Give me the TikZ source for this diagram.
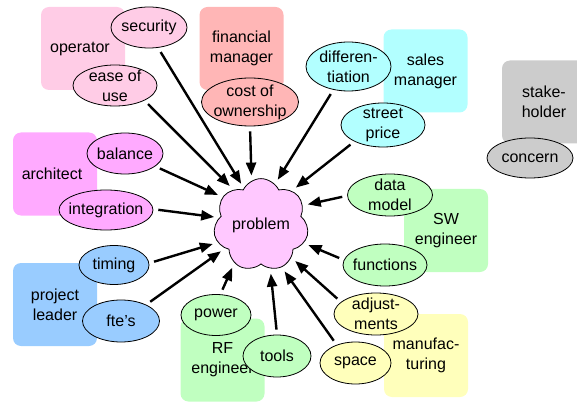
\documentclass[tikz,border=0pt]{standalone}
\usepackage{fontspec}
\setmainfont{Liberation Sans}
\usetikzlibrary{shapes.geometric,shapes.symbols,arrows.meta}

\definecolor{opPink}{RGB}{255,204,230}
\definecolor{finRed}{RGB}{255,182,182}
\definecolor{archMag}{RGB}{255,170,255}
\definecolor{plBlue}{RGB}{153,204,255}
\definecolor{engGreen}{RGB}{192,255,192}
\definecolor{manYellow}{RGB}{255,255,187}
\definecolor{salesCyan}{RGB}{178,255,255}
\definecolor{shGray}{RGB}{204,204,204}
\definecolor{probPink}{RGB}{255,200,255}

\begin{document}
\begin{tikzpicture}[x=1pt, y=-1pt,
  every node/.style={font=\fontsize{16}{20}\selectfont, align=center},
  holder/.style={fill=#1, rounded corners=8pt, minimum width=84pt, minimum height=83pt, inner sep=0pt},
  bubble/.style={ellipse, draw, line width=0.8pt, fill=#1, inner sep=-6pt},
  need/.style={-{Triangle[length=13pt,width=10pt]}, line width=2.4pt, shorten <=5pt, shorten >=5pt}]
  \useasboundingbox (0,0) rectangle (577,403);

  % Stakeholders
  \node[holder=opPink] (operator) at (83,48.5) {operator\hspace{6pt}};
  \node[holder=finRed] (finance) at (241.5,48.5) {financial\\manager};
  \node[holder=archMag] (architect) at (55,174) {architect\hspace{6pt}};
  \node[holder=plBlue] (leader) at (55,304.5) {project\\leader};
  \node[holder=engGreen] (rfeng) at (222.5,360) {RF\\engineer};
  \node[holder=engGreen] (sweng) at (446,230.5) {SW\\engineer};
  \node[holder=manYellow] (manuf) at (426,355.5) {manufac-\\turing};
  \node[holder=salesCyan] (sales) at (425.5,71) {sales\\manager};
  \node[holder=shGray] (stake) at (544,102) {stake-\\holder};

  % Concerns
  \node[bubble=opPink, minimum width=76pt, minimum height=41pt] (security) at (149,27.5) {security};
  \node[bubble=opPink, minimum width=84pt, minimum height=41pt] (ease) at (115,85.5) {ease of\\use};
  \node[bubble=finRed, minimum width=97pt, minimum height=48pt] (cost) at (250,102) {cost of\\ownership};
  \node[bubble=salesCyan, minimum width=85pt, minimum height=49pt] (diff) at (348.5,66.5) {differen-\\tiation};
  \node[bubble=salesCyan, minimum width=84pt, minimum height=44pt] (price) at (383,125) {street\\price};
  \node[bubble=engGreen, minimum width=85pt, minimum height=42pt] (data) at (390,195) {data\\model};
  \node[bubble=engGreen, minimum width=84pt, minimum height=42pt] (functions) at (385,265) {functions};
  \node[bubble=manYellow, minimum width=84pt, minimum height=42pt] (adjust) at (376,314) {adjust-\\ments};
  \node[bubble=manYellow, minimum width=71pt, minimum height=42pt] (space) at (355.5,363) {space};
  \node[bubble=engGreen, minimum width=68pt, minimum height=42pt] (tools) at (277,356) {tools};
  \node[bubble=engGreen, minimum width=70pt, minimum height=41pt] (power) at (216,315) {power};
  \node[bubble=plBlue, minimum width=77pt, minimum height=42pt] (ftes) at (121,321) {fte's};
  \node[bubble=plBlue, minimum width=70pt, minimum height=39pt] (timing) at (114,265) {timing};
  \node[bubble=archMag, minimum width=94pt, minimum height=40pt] (integration) at (106,210) {integration};
  \node[bubble=archMag, minimum width=76pt, minimum height=41pt] (balance) at (125,153.5) {balance};
  \node[bubble=shGray, minimum width=86pt, minimum height=40pt] (concern) at (530,158) {concern};

  % The problem
  \node[cloud, cloud puffs=7, cloud puff arc=130, aspect=1.05, draw, line width=0.8pt, fill=probPink,
        minimum width=93pt, minimum height=89pt, inner sep=0pt] (problem) at (261,225) {problem};

  % Arrows to the problem
  \draw[need] (security.-66) -- (problem.115);
  \draw[need] (ease.-27) -- (problem.128);
  \draw[need] (cost.-90) -- (problem.102);
  \draw[need] (diff.-123) -- (problem.71);
  \draw[need] (price.-150) -- (problem.48);
  \draw[need] (data.181) -- (problem.25);
  \draw[need] (functions.173) -- (problem.-23);
  \draw[need] (adjust.161) -- (problem.-47);
  \draw[need] (space.136) -- (problem.-64);
  \draw[need] (tools.90) -- (problem.-78);
  \draw[need] (power.78) -- (problem.-125);
  \draw[need] (ftes.33) -- (problem.-147);
  \draw[need] (timing.3) -- (problem.-158);
  \draw[need] (integration.1) -- (problem.170);
  \draw[need] (balance.-23) -- (problem.144);
\end{tikzpicture}
\end{document}
